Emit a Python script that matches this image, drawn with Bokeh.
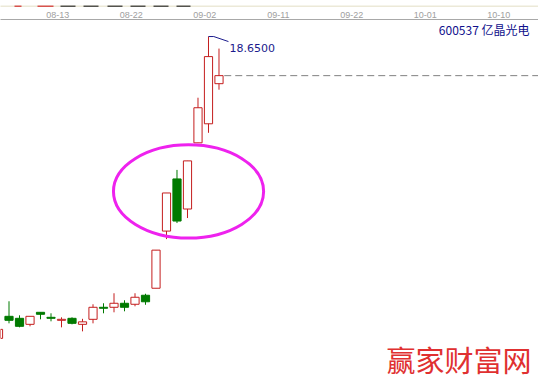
from bokeh.plotting import figure
from bokeh.models import Range1d, LinearAxis, FixedTicker, ColumnDataSource
from bokeh.layouts import column
from bokeh.embed import file_html
from bokeh.resources import INLINE
from bokeh.core.properties import value

# ---- daily bars for 600537, oldest first ----
opens  = [6.61, 7.49, 7.41, 7.17, 7.65, 7.45, 7.33, 7.41, 7.17, 7.37, 7.85,
          7.85, 8.01, 7.97, 8.33, 8.61, 10.89, 12.97, 11.77, 14.41, 15.17, 16.77]
highs  = [6.97, 8.09, 7.53, 7.49, 7.65, 7.61, 7.45, 7.45, 7.39, 7.97, 8.01,
          8.41, 8.13, 8.41, 8.39, 10.13, 12.41, 13.33, 13.69, 16.21, 18.65, 18.17]
lows   = [6.61, 7.21, 7.05, 7.09, 7.37, 7.29, 7.05, 7.17, 6.89, 7.21, 7.61,
          7.65, 7.69, 7.89, 7.95, 8.61, 10.57, 11.21, 11.41, 14.41, 14.81, 16.53]
closes = [6.97, 7.33, 7.09, 7.49, 7.57, 7.41, 7.37, 7.21, 7.27, 7.85, 7.81,
          8.01, 7.85, 8.25, 8.07, 10.13, 12.41, 11.29, 13.69, 15.81, 17.85, 17.09]

# date labels along the top scale, one every 7 bars
date_labels = ["08-13", "08-22", "09-02", "09-11", "09-22", "10-01", "10-10"]

stock_label = "600537 亿晶光电"
site_mark = "赢家财富网"

UP = "#c41e1e"
DOWN = "#007a00"
NAVY = "#1a1a8c"

n = len(opens)
idx = list(range(n))
up = [c >= o for o, c in zip(opens, closes)]

src = ColumnDataSource(dict(
    x=idx,
    top=[max(o, c) for o, c in zip(opens, closes)],
    bottom=[min(o, c) for o, c in zip(opens, closes)],
    high=highs,
    low=lows,
    color=[UP if u else DOWN for u in up],
    fill=["#ffffff" if u else DOWN for u in up],
))

x_range = Range1d(0.19, 51.43)
y_range = Range1d(4.77, 19.33)

# ---- thin toolbar strip on top ----
hdr = figure(width=538, height=7, x_range=(0, 538), y_range=(0, 7),
             output_backend="svg", toolbar_location=None, title=None,
             x_axis_location=None, y_axis_location=None, min_border=0)
hdr.background_fill_color = "#ece9d8"
hdr.border_fill_color = "#ece9d8"
hdr.outline_line_color = None
hdr.grid.visible = False
icon_red = [(14, 21), (37, 53)]
icon_black = [(60, 75), (83, 98), (107, 122), (130, 145), (153, 168), (176, 190)]
hdr.segment(x0=[a for a, b in icon_red], x1=[b for a, b in icon_red],
            y0=6.5, y1=6.5, line_color="#d02020", line_width=1.5)
hdr.segment(x0=[a for a, b in icon_black], x1=[b for a, b in icon_black],
            y0=6.5, y1=6.5, line_color="#202020", line_width=1.5)
hdr.segment(x0=0, x1=538, y0=0.5, y1=0.5, line_color="#aca899", line_width=1)

# ---- candlestick panel ----
p = figure(width=538, height=377, x_range=x_range, y_range=y_range,
           output_backend="svg", toolbar_location=None, title=None,
           x_axis_location=None, y_axis_location=None,
           min_border=0, min_border_top=12)
p.background_fill_color = "#ffffff"
p.border_fill_color = "#ffffff"
p.outline_line_color = None
p.grid.visible = False

tick_pos = [round(5.65 + 7 * k, 2) for k in range(len(date_labels))]
top_axis = LinearAxis(
    ticker=FixedTicker(ticks=tick_pos),
    major_label_overrides={t: s for t, s in zip(tick_pos, date_labels)},
    axis_line_color="#a8a8a8", axis_line_width=1,
    major_tick_line_color=None, minor_tick_line_color=None,
    major_tick_out=0, major_tick_in=0,
    major_label_text_color="#a0a0a0",
    major_label_text_font="Liberation Sans",
    major_label_text_font_size="9px",
    major_label_standoff=2,
)
p.add_layout(top_axis, "above")

# wicks, then bodies on top
p.segment(x0="x", y0="low", x1="x", y1="high", line_color="color",
          line_width=1, source=src)
p.vbar(x="x", width=0.78, top="top", bottom="bottom", fill_color="fill",
       line_color="color", line_width=1, source=src)

# last-close reference line
last = n - 1
p.segment(x0=[last + 0.5], x1=[x_range.end], y0=[closes[last]], y1=[closes[last]],
          line_color="#808080", line_width=1, line_dash="7 4")

# highest-high marker
hi_i = max(idx, key=lambda i: highs[i])
hi = highs[hi_i]
p.line(x=[hi_i, hi_i + 0.5, hi_i + 1.9], y=[hi, hi, hi - 0.2],
       line_color=NAVY, line_width=1)
p.text(x=[hi_i + 2.0], y=[hi - 0.2], text=[f"{hi:.4f}"],
       text_baseline="top", text_align="left", y_offset=2,
       text_font=value("DejaVu Sans"), text_font_size="11px", text_color=NAVY)

# highlight around the breakout bars
p.ellipse(x=[18.1], y=[12.47], width=[14.3], height=[3.72],
          fill_color=None, line_color="#ee22ee", line_width=3)

# stock name, top right
p.text(x=[x_range.end], y=[y_range.end], text=[stock_label],
       text_align="right", text_baseline="top", x_offset=-9, y_offset=1,
       text_font=value("Noto Sans CJK SC"), text_font_size="12px",
       text_color="#10108c")

# site mark, bottom right
p.text(x=[x_range.end], y=[y_range.start], text=[site_mark],
       text_align="right", text_baseline="bottom", x_offset=-7, y_offset=-5,
       text_font=value("Noto Sans CJK SC"), text_font_size="29px",
       text_color="#e03030")

layout = column(hdr, p, spacing=0)
open("out.html", "w").write(file_html(layout, INLINE))
